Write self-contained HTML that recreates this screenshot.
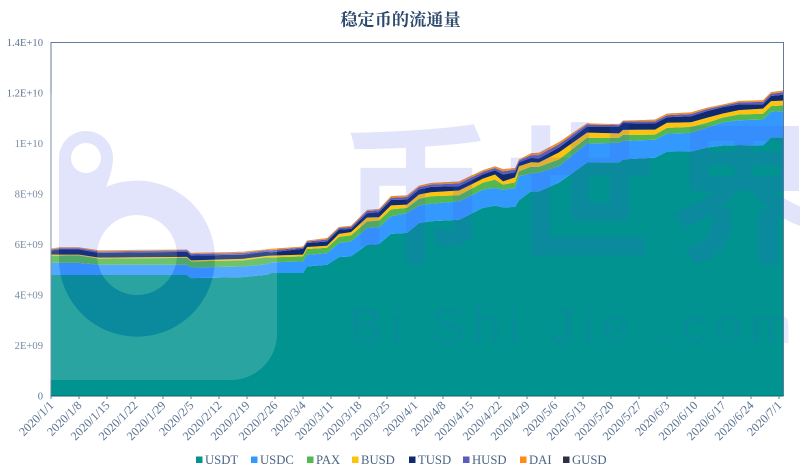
<!DOCTYPE html>
<html>
<head>
<meta charset="utf-8">
<title>稳定币的流通量</title>
<style>
html,body{margin:0;padding:0;background:#fff;}
#stage{position:relative;width:800px;height:474px;overflow:hidden;background:#fff;}
svg{position:absolute;left:0;top:0;filter:blur(0.35px);}
</style>
</head>
<body>
<div id="stage">
<svg id="chart" width="800" height="474" viewBox="0 0 800 474" xmlns="http://www.w3.org/2000/svg">
  <text x="400.5" y="25.5" text-anchor="middle" font-family="'Liberation Serif','Noto Serif CJK SC',serif" font-size="17.2" font-weight="700" fill="#2c4a6b">稳定币的流通量</text>
  <g id="areas"></g>
  <g id="axes"></g>
  <g id="legend"></g>
  <defs>
    <mask id="logo-knockout" maskUnits="userSpaceOnUse" x="-10" y="80" width="300" height="310">
      <rect x="-10" y="80" width="300" height="310" fill="#fff"/>
      <path d="M59 158 A27 27 0 0 1 113 158 Q113 170 106 187 A78 78 0 1 1 59 255 Z" fill="#000"/>
      <circle cx="137" cy="255" r="40" fill="#fff"/>
      <circle cx="86" cy="158" r="15" fill="#fff"/>
    </mask>
    <mask id="logo-holes" maskUnits="userSpaceOnUse" x="40" y="120" width="190" height="230">
      <rect x="40" y="120" width="190" height="230" fill="#fff"/>
      <circle cx="137" cy="255" r="40" fill="#000"/>
      <circle cx="86" cy="158" r="15" fill="#000"/>
    </mask>
  </defs>
  <g id="watermark">
    <rect x="0" y="93" width="277" height="287" rx="46" ry="46" fill="#fff" fill-opacity="0.16" mask="url(#logo-knockout)"/>
    <path d="M59 158 A27 27 0 0 1 113 158 Q113 170 106 187 A78 78 0 1 1 59 255 Z" fill="#4258e6" fill-opacity="0.16" mask="url(#logo-holes)"/>
    <text x="340" y="250" font-family="'Noto Sans CJK SC',sans-serif" font-size="152" font-weight="700" letter-spacing="12" fill="#4258e6" fill-opacity="0.16">币世界</text>
    <text x="349" y="343" font-family="'Liberation Sans',sans-serif" font-size="50" letter-spacing="8" fill="#4258e6" fill-opacity="0.12" xml:space="preserve">Bi Shi Jie .com</text>
  </g>
</svg>
</div>
<script>
// Dates of sampled points (categories)
var categories = ["2020/1/1","2020/1/3","2020/1/8","2020/1/13","2020/2/4","2020/2/5","2020/2/18","2020/2/24","2020/2/25","2020/3/4","2020/3/5","2020/3/10","2020/3/13","2020/3/16","2020/3/20","2020/3/23","2020/3/26","2020/3/30","2020/4/2","2020/4/5","2020/4/12","2020/4/15","2020/4/18","2020/4/21","2020/4/23","2020/4/26","2020/4/27","2020/4/30","2020/5/2","2020/5/7","2020/5/14","2020/5/22","2020/5/23","2020/5/31","2020/6/3","2020/6/9","2020/6/13","2020/6/17","2020/6/21","2020/6/27","2020/6/29","2020/7/2"];
// Circulating supply per coin, in billions of USD
var usdt = [4.79,4.79,4.79,4.79,4.79,4.67,4.71,4.80,4.87,4.87,5.13,5.20,5.50,5.53,5.99,6.02,6.42,6.46,6.85,6.92,6.98,7.22,7.45,7.54,7.47,7.49,7.75,8.11,8.11,8.45,9.25,9.26,9.37,9.44,9.68,9.69,9.84,9.92,9.94,9.92,10.25,10.25];
var usdc = [0.48,0.48,0.48,0.41,0.41,0.42,0.42,0.42,0.42,0.46,0.46,0.46,0.56,0.60,0.66,0.67,0.70,0.79,0.69,0.70,0.73,0.71,0.73,0.70,0.70,0.75,0.95,0.70,0.73,0.65,0.75,0.77,0.73,0.71,0.71,0.73,0.79,0.92,0.98,1.03,1.01,1.03];
var pax = [0.29,0.29,0.30,0.24,0.27,0.24,0.24,0.28,0.20,0.20,0.23,0.21,0.24,0.23,0.26,0.26,0.27,0.20,0.27,0.29,0.24,0.27,0.27,0.33,0.20,0.22,0.20,0.27,0.24,0.27,0.23,0.20,0.24,0.20,0.23,0.24,0.19,0.19,0.23,0.23,0.22,0.23];
var busd = [0.04,0.04,0.03,0.04,0.04,0.04,0.06,0.05,0.07,0.07,0.08,0.08,0.12,0.13,0.16,0.13,0.16,0.13,0.17,0.16,0.19,0.17,0.16,0.20,0.13,0.20,0.20,0.18,0.17,0.28,0.20,0.17,0.20,0.20,0.20,0.18,0.20,0.16,0.17,0.20,0.20,0.19];
var tusd = [0.16,0.20,0.20,0.19,0.20,0.19,0.17,0.17,0.13,0.23,0.16,0.17,0.17,0.13,0.17,0.20,0.21,0.20,0.20,0.21,0.17,0.17,0.17,0.17,0.27,0.20,0.16,0.17,0.16,0.19,0.24,0.27,0.27,0.24,0.22,0.24,0.26,0.25,0.23,0.17,0.20,0.23];
var husd = [0.05,0.05,0.05,0.06,0.06,0.06,0.07,0.06,0.08,0.05,0.06,0.08,0.07,0.08,0.08,0.08,0.09,0.10,0.09,0.09,0.11,0.11,0.10,0.09,0.13,0.10,0.06,0.11,0.13,0.13,0.08,0.06,0.06,0.09,0.08,0.09,0.08,0.06,0.08,0.10,0.09,0.10];
var dai = [0.03,0.03,0.03,0.04,0.03,0.04,0.04,0.03,0.06,0.03,0.03,0.05,0.03,0.04,0.04,0.04,0.06,0.06,0.06,0.06,0.07,0.07,0.06,0.06,0.08,0.06,0.04,0.07,0.09,0.08,0.05,0.03,0.03,0.06,0.06,0.06,0.05,0.04,0.05,0.06,0.06,0.06];
var gusd = [0.004,0.004,0.004,0.004,0.004,0.004,0.004,0.004,0.004,0.004,0.004,0.004,0.004,0.004,0.004,0.004,0.004,0.004,0.004,0.004,0.004,0.004,0.004,0.004,0.004,0.004,0.004,0.004,0.004,0.004,0.004,0.004,0.004,0.004,0.004,0.004,0.004,0.004,0.004,0.004,0.004,0.004];
var seriesNames = ["USDT","USDC","PAX","BUSD","TUSD","HUSD","DAI","GUSD"];
var seriesColors = ["#009390","#3399ff","#52b84f","#ffc20e","#0f2a6e","#5b5bbd","#ff8c14","#2e2e44"];
var xTickLabels = ["2020/1/1","2020/1/8","2020/1/15","2020/1/22","2020/1/29","2020/2/5","2020/2/12","2020/2/19","2020/2/26","2020/3/4","2020/3/11","2020/3/18","2020/3/25","2020/4/1","2020/4/8","2020/4/15","2020/4/22","2020/4/29","2020/5/6","2020/5/13","2020/5/20","2020/5/27","2020/6/3","2020/6/10","2020/6/17","2020/6/24","2020/7/1"];
var yTickValues = [0,2,4,6,8,10,12,14];
var yTickLabels = ["0","2E+09","4E+09","6E+09","8E+09","1E+10","1.2E+10","1.4E+10"];
var legendSlots = [196,251,307,352,409,463,520,563];

var seriesData = [usdt,usdc,pax,busd,tusd,husd,dai,gusd];
var NS = "http://www.w3.org/2000/svg";
var PLOT = {left:51,right:783.5,top:42.5,bottom:396};
var AXIS_COLOR = "#5f7d9b";
var TEXT_COLOR = "#5b7390";

function dayOf(s){
  var p = s.split("/");
  return (Date.UTC(+p[0],+p[1]-1,+p[2]) - Date.UTC(2020,0,1)) / 86400000;
}
function xScale(day){ return PLOT.left + day * 4.0; }
function yScale(v){ return PLOT.bottom - v * (PLOT.bottom - PLOT.top) / 14; }
function mk(tag,parent){
  var el = document.createElementNS(NS,tag);
  parent.appendChild(el);
  return el;
}

// stacked areas
var areasG = document.getElementById("areas");
var lower = categories.map(function(){ return 0; });
seriesData.forEach(function(vals,si){
  var upper = vals.map(function(v,i){ return lower[i] + v; });
  var d = "";
  categories.forEach(function(c,i){
    d += (i ? "L" : "M") + xScale(dayOf(c)).toFixed(2) + " " + yScale(upper[i]).toFixed(2);
  });
  for (var i = categories.length - 1; i >= 0; i--) {
    d += "L" + xScale(dayOf(categories[i])).toFixed(2) + " " + yScale(lower[i]).toFixed(2);
  }
  d += "Z";
  var p = mk("path",areasG);
  p.setAttribute("d",d);
  p.setAttribute("fill",seriesColors[si]);
  
  
  lower = upper;
});

// axes frame
var axesG = document.getElementById("axes");
var frame = mk("path",axesG);
frame.setAttribute("d","M"+PLOT.left+" "+PLOT.bottom+"V"+PLOT.top+"H"+PLOT.right+"V"+PLOT.bottom);
frame.setAttribute("fill","none");
frame.setAttribute("stroke",AXIS_COLOR);
frame.setAttribute("stroke-width","1");


var baseLine = mk("line",axesG);
baseLine.setAttribute("x1",PLOT.left);
baseLine.setAttribute("x2",PLOT.right);
baseLine.setAttribute("y1",PLOT.bottom);
baseLine.setAttribute("y2",PLOT.bottom);
baseLine.setAttribute("stroke","#0f5f6a");
baseLine.setAttribute("stroke-width","1");



// y ticks
yTickValues.forEach(function(v,i){
  var t = mk("text",axesG);
  t.setAttribute("x",PLOT.left-8);
  t.setAttribute("y",yScale(v)+3.5);
  t.setAttribute("text-anchor","end");
  t.setAttribute("font-family","'Liberation Serif',serif");
  t.setAttribute("font-size","10.6");
  t.setAttribute("fill",TEXT_COLOR);
  
  
  t.textContent = yTickLabels[i];
});

// x ticks
xTickLabels.forEach(function(s){
  var x = xScale(dayOf(s));
  var tick = mk("line",axesG);
  tick.setAttribute("x1",x);
  tick.setAttribute("x2",x);
  tick.setAttribute("y1",PLOT.bottom);
  tick.setAttribute("y2",PLOT.bottom+3);
  tick.setAttribute("stroke",AXIS_COLOR);
  
  
  var t = mk("text",axesG);
  var tx = x + 3.5;
  var ty = PLOT.bottom + 10;
  t.setAttribute("x",tx);
  t.setAttribute("y",ty);
  t.setAttribute("text-anchor","end");
  t.setAttribute("transform","rotate(-45 "+tx+" "+ty+")");
  t.setAttribute("font-family","'Liberation Serif',serif");
  t.setAttribute("font-size","12.2");
  t.setAttribute("fill",TEXT_COLOR);
  
  
  t.textContent = s;
});

// legend
var legendG = document.getElementById("legend");
seriesNames.forEach(function(name,i){
  var g = mk("g",legendG);
  
  
  var r = mk("rect",g);
  r.setAttribute("x",legendSlots[i]);
  r.setAttribute("y",456.5);
  r.setAttribute("width",6.5);
  r.setAttribute("height",6.5);
  r.setAttribute("fill",seriesColors[i]);
  
  
  var t = mk("text",g);
  t.setAttribute("x",legendSlots[i]+9);
  t.setAttribute("y",463.8);
  t.setAttribute("font-family","'Liberation Serif',serif");
  t.setAttribute("font-size","12.7");
  t.setAttribute("fill","#4a6484");
  
  
  t.textContent = name;
});
</script>
</body>
</html>
